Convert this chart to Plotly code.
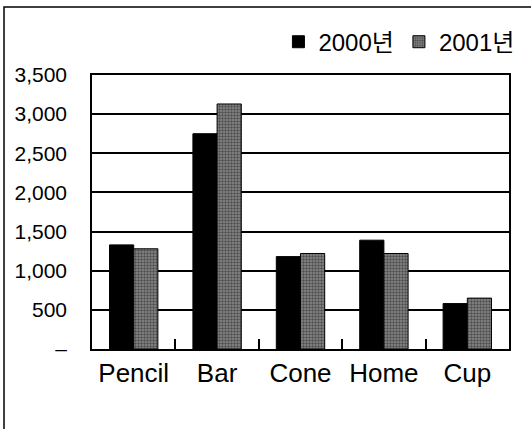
import plotly.graph_objects as go

categories = ["Pencil", "Bar", "Cone", "Home", "Cup"]
series_names = ["2000년", "2001년"]
values_2000 = [1330, 2750, 1180, 1390, 580]
values_2001 = [1280, 3130, 1220, 1220, 650]
y_tick_values = [0, 500, 1000, 1500, 2000, 2500, 3000, 3500]
y_tick_labels = ["–", "500", "1,000", "1,500", "2,000", "2,500", "3,000", "3,500"]

FONT = "Liberation Sans, Arial, Noto Sans CJK KR, sans-serif"

fig = go.Figure()
fig.add_trace(go.Bar(
    x=categories, y=values_2000, name=series_names[0],
    marker=dict(color="#000000", line=dict(color="#000000", width=1)),
))
fig.add_trace(go.Bar(
    x=categories, y=values_2001, name=series_names[1],
    marker=dict(
        color="#666666",
        line=dict(color="#000000", width=1),
        pattern=dict(shape=".", fgcolor="#111111", bgcolor="#8a8a8a", size=3, solidity=0.5),
    ),
))

fig.update_layout(
    width=531, height=429,
    margin=dict(l=92, r=18, t=75, b=80),
    paper_bgcolor="white", plot_bgcolor="white",
    barmode="group", bargap=0.42, bargroupgap=0,
    font=dict(family=FONT, color="#000000"),
    showlegend=True,
    legend=dict(
        orientation="h", x=1.025, xanchor="right", y=1.12, yanchor="middle",
        font=dict(size=24, family=FONT), itemwidth=30, traceorder="normal",
        bgcolor="rgba(0,0,0,0)", tracegroupgap=0,
    ),
    shapes=[dict(
        type="rect", xref="paper", yref="paper",
        x0=-0.211, x1=2.0, y0=-2.0, y1=1.248,
        line=dict(color="#000000", width=1.5), fillcolor="rgba(0,0,0,0)", layer="above",
    )],
)

fig.update_xaxes(
    showline=True, linecolor="#000000", linewidth=1.5, mirror=True,
    ticks="inside", tickson="boundaries", ticklen=10, tickcolor="#000000", tickwidth=1.5,
    tickfont=dict(size=26, family=FONT), showgrid=False,
)
fig.update_yaxes(
    range=[0, 3500], tickvals=y_tick_values, ticktext=y_tick_labels,
    showline=True, linecolor="#000000", linewidth=1.5, mirror=True,
    showgrid=True, gridcolor="#000000", gridwidth=1.5,
    ticks="", ticklabelstandoff=19,
    tickfont=dict(size=21, family=FONT), zeroline=False,
)

fig.write_html(
    "out.html",
    config={"displayModeBar": False},
    post_script="document.body.style.margin='0';",
)
